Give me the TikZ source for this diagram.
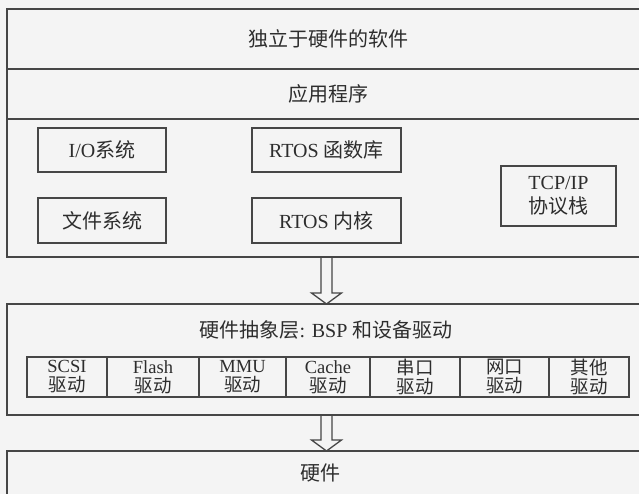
\documentclass[tikz,border=0pt]{standalone}
\usepackage{fontspec}
\setmainfont{Liberation Serif}
\newfontfamily\cjkfont{Noto Sans CJK SC}
\newcommand{\zhtext}[1]{{\cjkfont #1}}
\usetikzlibrary{calc}
\definecolor{bg}{RGB}{244,244,244}
\definecolor{ln}{RGB}{70,70,70}
\definecolor{tx}{RGB}{45,45,45}
\begin{document}
\begin{tikzpicture}[x=1pt,y=-1pt,
 outer/.style={draw=ln,line width=1.6pt,anchor=north west,inner sep=0pt,outer sep=0pt},
 inbox/.style={draw=ln,line width=1.3pt,anchor=north west,inner sep=0pt,outer sep=0pt,text=tx,font=\fontsize{20}{24}\selectfont,align=center},
 cell/.style={draw=ln,line width=1.2pt,anchor=north west,inner sep=0pt,outer sep=0pt,minimum height=40pt,text=tx,font=\fontsize{18.5}{19}\selectfont,align=center},
 title/.style={text=tx,font=\fontsize{20}{24}\selectfont,inner sep=0pt},
 harrow/.style={draw=ln,line width=1.3pt}]
\fill[bg] (0,0) rectangle (639,494);
\useasboundingbox (0,0) rectangle (639,494);

% layer 1: hardware-independent software
\node[outer,minimum width=639pt,minimum height=248pt] (b1) at (7,9) {};
\coordinate (l1) at (7,69);
\coordinate (l2) at (7,119);
\draw[ln,line width=1.6pt] (l1) -- (b1.east |- l1);
\draw[ln,line width=1.6pt] (l2) -- (b1.east |- l2);
\node[title] (t1) at (328,39) {\zhtext{独立于硬件的软件}};
\node[title] (t1b) at (328,94) {\zhtext{应用程序}};

\node[inbox,minimum width=128pt,minimum height=44pt] (io) at (38,128) {I/O\zhtext{系统}};
\node[inbox,minimum width=128pt,minimum height=45pt] (fs) at (38,198) {\zhtext{文件系统}};
\node[inbox,minimum width=149pt,minimum height=44pt] (lib) at (252,128) {RTOS \zhtext{函数库}};
\node[inbox,minimum width=149pt,minimum height=45pt] (kern) at (252,198) {RTOS \zhtext{内核}};
\node[inbox,minimum width=115pt,minimum height=60pt] (tcp) at (501,166) {TCP/IP\\\zhtext{协议栈}};

% layer 2: HAL
\node[outer,minimum width=639pt,minimum height=111pt] (b2) at (7,304) {};
\node[title] (t2) at (326,330) {\zhtext{硬件抽象层}: BSP \zhtext{和设备驱动}};
\node[cell,minimum width=80pt] (c1) at (27,357) {SCSI\\\zhtext{驱动}};
\node[cell,minimum width=92pt] (c2) at (c1.north east) {Flash\\\zhtext{驱动}};
\node[cell,minimum width=87pt] (c3) at (c2.north east) {MMU\\\zhtext{驱动}};
\node[cell,minimum width=84pt] (c4) at (c3.north east) {Cache\\\zhtext{驱动}};
\node[cell,minimum width=90pt] (c5) at (c4.north east) {\zhtext{串口}\\\zhtext{驱动}};
\node[cell,minimum width=89pt] (c6) at (c5.north east) {\zhtext{网口}\\\zhtext{驱动}};
\node[cell,minimum width=80pt] (c7) at (c6.north east) {\zhtext{其他}\\\zhtext{驱动}};

% layer 3: hardware
\node[outer,minimum width=639pt,minimum height=60pt] (b3) at (7,451) {};
\node[title] (t3) at (320,473) {\zhtext{硬件}};

% hollow arrows
\draw[harrow] (b1.south) ++(-5.5,0) -- ++(0,36) -- ++(-9.5,0) -- (b2.north) -- ++(15,-11) -- ++(-9.5,0) -- ++(0,-36);
\draw[harrow] (b2.south) ++(-5.5,0) -- ++(0,25) -- ++(-9.5,0) -- (b3.north) -- ++(15,-11) -- ++(-9.5,0) -- ++(0,-25);
\end{tikzpicture}
\end{document}
